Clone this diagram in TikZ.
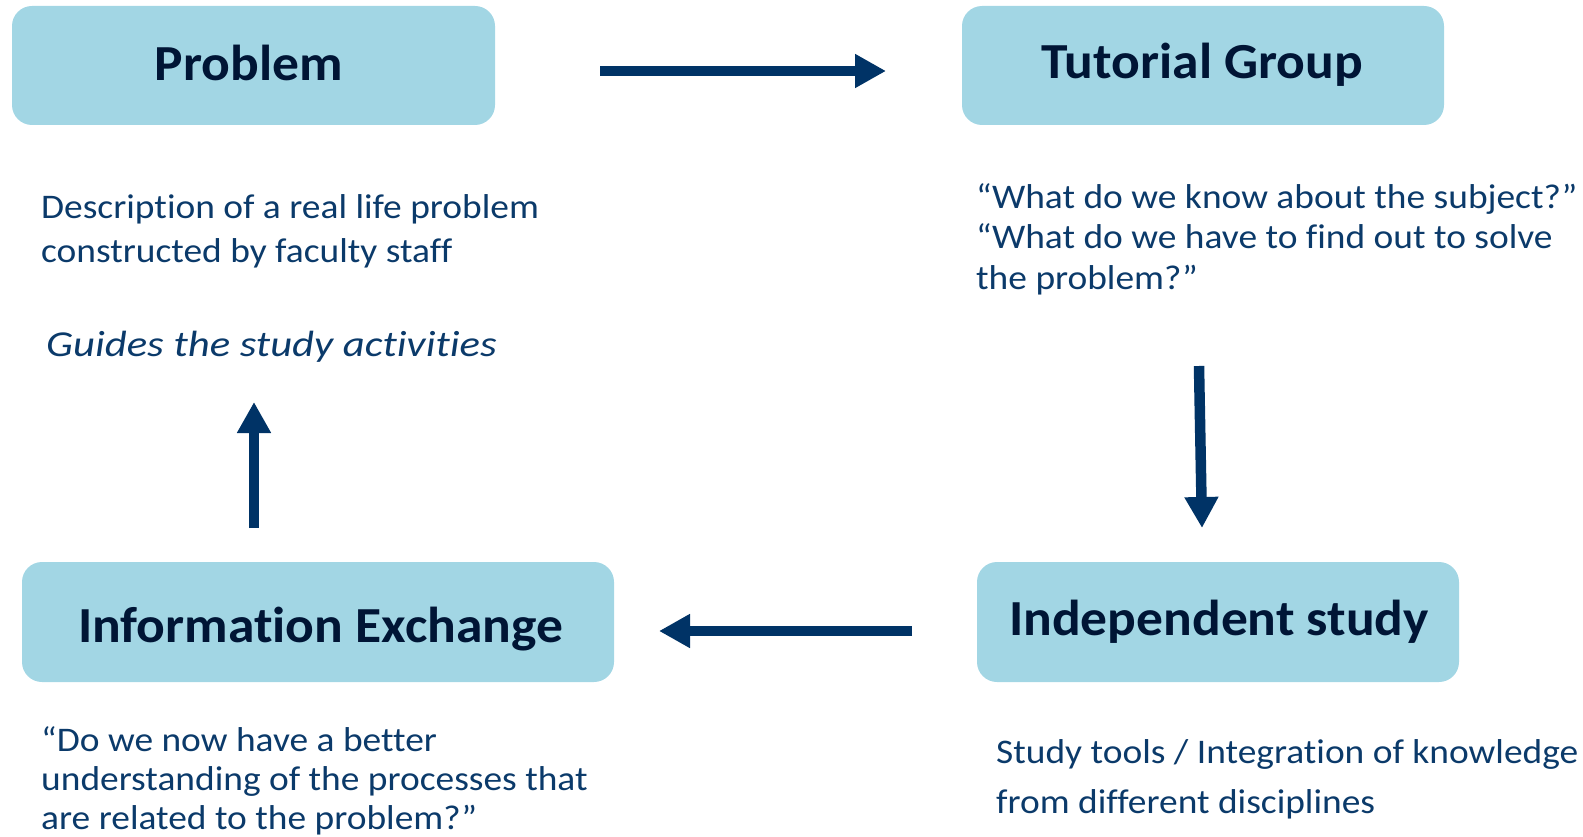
\documentclass[tikz,border=0pt]{standalone}
\usepackage{fontspec}
\setmainfont{Carlito}[Ligatures=NoCommon]
\newfontfamily\titlefont[FakeStretch=1.06, Ligatures=NoCommon]{Carlito}
\newfontfamily\bodyfont[FakeStretch=1.085, Ligatures=NoCommon]{Carlito}
\newfontfamily\notefont[FakeStretch=1.17, Ligatures=NoCommon]{Carlito}
\usetikzlibrary{arrows.meta}
\definecolor{boxfill}{HTML}{A2D6E4}
\definecolor{titleink}{HTML}{001535}
\definecolor{bodyink}{HTML}{0B3A6A}
\definecolor{arrowink}{HTML}{003366}
\tikzset{
  stagebox/.style={fill=boxfill, draw=none, rounded corners=20pt, inner sep=0pt},
  stagetitle/.style={anchor=base, inner sep=0pt, text=titleink,
    font=\titlefont\fontsize{50.5}{60}\selectfont\bfseries},
  bodyline/.style={anchor=base west, inner sep=0pt, text=bodyink,
    font=\bodyfont\fontsize{34.5}{40}\selectfont},
  flow/.style={draw=arrowink, line width=10.5pt,
    -{Triangle[width=32pt,length=31pt]}},
}
\begin{document}
\begin{tikzpicture}[x=1pt,y=-1pt]
\useasboundingbox (0,0) rectangle (1583,837);
% the four stages of the cycle
\node[stagebox, minimum width=483pt, minimum height=119pt] (problem) at (253.5,65.5) {};
\node[stagebox, minimum width=482pt, minimum height=119pt] (tutorial) at (1203,65.5) {};
\node[stagebox, minimum width=592pt, minimum height=120pt] (exchange) at (318,622) {};
\node[stagebox, minimum width=482pt, minimum height=120pt] (independent) at (1218,622) {};
\node[stagetitle] (problemtitle) at (249,81) {Problem};
\node[stagetitle] (tutorialtitle) at (1202,79) {Tutorial Group};
\node[stagetitle] (exchangetitle) at (320.5,642) {Information Exchange};
\node[stagetitle] (independenttitle) at (1219,635) {Independent study};
% descriptions
\node[bodyline] (pd1) at (41,219) {Description of a real life problem};
\node[bodyline] (pd2) at (41,263) {constructed by faculty staff};
\node[bodyline, font=\notefont\fontsize{36.5}{40}\selectfont\itshape] (pg) at (46,356) {Guides the study activities};
\node[bodyline] (tg1) at (976,209) {“What do we know about the subject?”};
\node[bodyline] (tg2) at (976,249) {“What do we have to find out to solve};
\node[bodyline] (tg3) at (976,290) {the problem?”};
\node[bodyline] (ie1) at (41,751) {“Do we now have a better};
\node[bodyline] (ie2) at (41,790) {understanding of the processes that};
\node[bodyline] (ie3) at (41,829) {are related to the problem?”};
\node[bodyline] (is1) at (996,763) {Study tools / Integration of knowledge};
\node[bodyline] (is2) at (996,813) {from different disciplines};
% arrow ends
\coordinate (a1s) at (600,71);   \coordinate (a1e) at (886,71);
\coordinate (a2s) at (1199,366); \coordinate (a2e) at (1202,528);
\coordinate (a3s) at (912,631);  \coordinate (a3e) at (659,631);
\coordinate (a4s) at (254,528);  \coordinate (a4e) at (254,402);
\draw[flow] (a1s) -- (a1e);
\draw[flow] (a2s) -- (a2e);
\draw[flow] (a3s) -- (a3e);
\draw[flow] (a4s) -- (a4e);
\end{tikzpicture}
\end{document}
